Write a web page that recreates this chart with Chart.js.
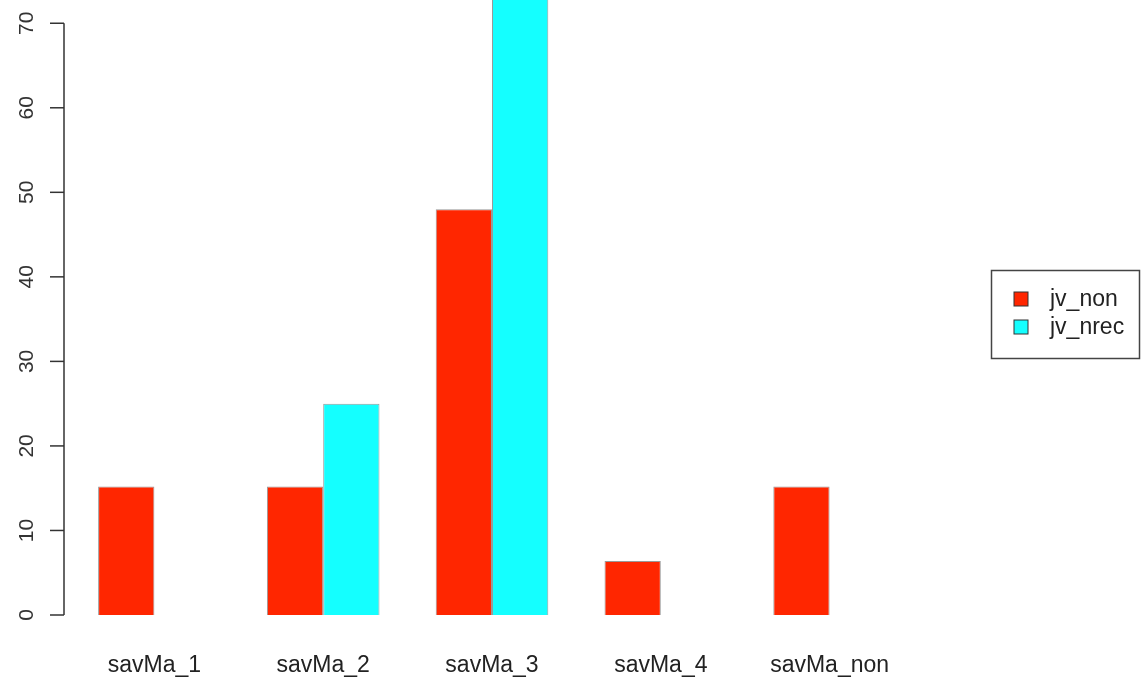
<!DOCTYPE html>
<html lang="en">
<head>
    <meta charset="UTF-8">
    <title>savMa barplot</title>
    <script src="https://cdn.jsdelivr.net/npm/chart.js"></script>
    <style>
        html, body { margin: 0; padding: 0; background: #fff; }
        #wrap { width: 1144px; height: 686px; }
    </style>
</head>
<body>
    <div id="wrap"><canvas id="bar-chart"></canvas></div>

    <script>
        // data
        const categories = ['savMa_1', 'savMa_2', 'savMa_3', 'savMa_4', 'savMa_non'];
        const jvNon = [15.2, 15.2, 48, 6.4, 15.2];
        const jvNrec = [null, 25, 75, null, null];
        const yTicks = [0, 10, 20, 30, 40, 50, 60, 70];
        const seriesNames = ['jv_non', 'jv_nrec'];
        const seriesColors = ['#ff2600', '#14ffff'];

        const FONT = '"Liberation Sans", Arial, sans-serif';

        // R style y axis: line from first to last tick, labels turned 90 degrees
        const rAxis = {
            id: 'rAxis',
            afterDraw(chart) {
                const ctx = chart.ctx;
                const y = chart.scales.y;
                const x0 = chart.chartArea.left - 6;
                ctx.save();
                ctx.strokeStyle = '#333';
                ctx.lineWidth = 1.5;
                ctx.beginPath();
                ctx.moveTo(x0, y.getPixelForValue(yTicks[0]));
                ctx.lineTo(x0, y.getPixelForValue(yTicks[yTicks.length - 1]));
                ctx.stroke();
                ctx.fillStyle = '#333';
                ctx.font = '21px ' + FONT;
                ctx.textAlign = 'center';
                ctx.textBaseline = 'middle';
                yTicks.forEach(v => {
                    const py = y.getPixelForValue(v);
                    ctx.beginPath();
                    ctx.moveTo(x0, py);
                    ctx.lineTo(x0 - 14, py);
                    ctx.stroke();
                    ctx.save();
                    ctx.translate(27, py);
                    ctx.rotate(-Math.PI / 2);
                    ctx.fillText(String(v), 0, 0);
                    ctx.restore();
                });
                ctx.restore();
            }
        };

        // boxed legend in the right margin
        const boxLegend = {
            id: 'boxLegend',
            afterDraw(chart) {
                const ctx = chart.ctx;
                ctx.save();
                ctx.strokeStyle = '#444';
                ctx.lineWidth = 1.5;
                ctx.strokeRect(991.5, 270.5, 148, 88);
                ctx.font = '23px ' + FONT;
                ctx.textBaseline = 'middle';
                chart.data.datasets.forEach((ds, i) => {
                    const cy = 299 + i * 28;
                    ctx.fillStyle = ds.backgroundColor;
                    ctx.fillRect(1014, cy - 7, 14, 14);
                    ctx.strokeStyle = '#333';
                    ctx.lineWidth = 1;
                    ctx.strokeRect(1014, cy - 7, 14, 14);
                    ctx.fillStyle = '#222';
                    ctx.fillText(ds.label, 1050, cy + 1);
                });
                ctx.restore();
            }
        };

        new Chart(document.getElementById('bar-chart'), {
            type: 'bar',
            data: {
                labels: categories,
                datasets: [
                    {
                        label: seriesNames[0],
                        data: jvNon,
                        backgroundColor: seriesColors[0],
                        borderColor: '#999',
                        borderWidth: 1
                    },
                    {
                        label: seriesNames[1],
                        data: jvNrec,
                        backgroundColor: seriesColors[1],
                        borderColor: '#999',
                        borderWidth: 1
                    }
                ]
            },
            options: {
                responsive: true,
                maintainAspectRatio: false,
                animation: false,
                layout: { padding: { left: 70, right: 230, top: 0, bottom: 6 } },
                datasets: { bar: { categoryPercentage: 0.667, barPercentage: 1 } },
                plugins: {
                    legend: { display: false },
                    tooltip: { enabled: false }
                },
                scales: {
                    x: {
                        grid: { display: false },
                        border: { display: false },
                        ticks: {
                            color: '#222',
                            font: { family: FONT, size: 23 },
                            padding: 29,
                            maxRotation: 0
                        },
                        afterFit(scale) { scale.height = 65; }
                    },
                    y: {
                        display: false,
                        min: 0,
                        max: 72.75
                    }
                }
            },
            plugins: [rAxis, boxLegend]
        });
    </script>
</body>
</html>
